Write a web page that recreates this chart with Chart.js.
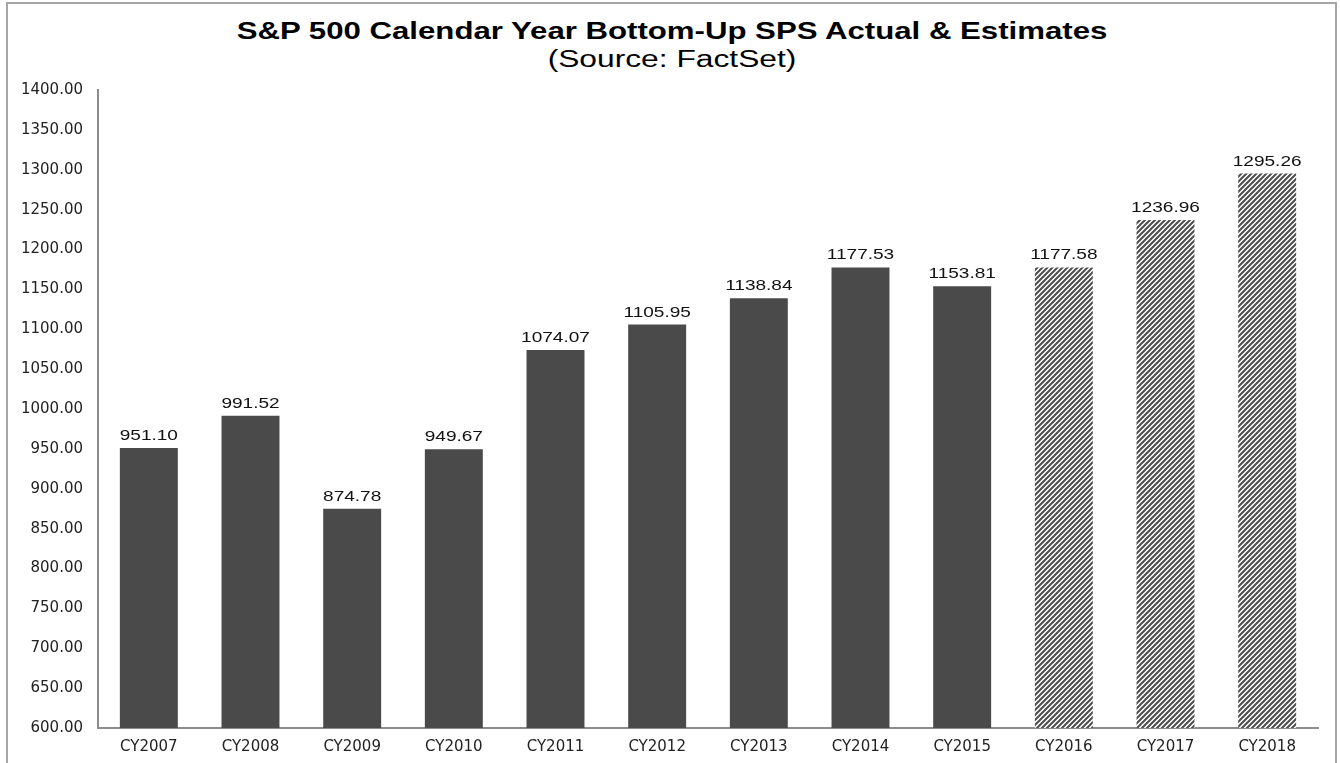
<!DOCTYPE html>
<html><head><meta charset="utf-8">
<script src="https://cdn.jsdelivr.net/npm/chart.js@4"></script>
<style>
html,body{margin:0;padding:0;background:#fff;}
#wrap{position:relative;width:1340px;height:763px;overflow:hidden;font-family:"Liberation Sans",Arial,sans-serif;}
#frame{position:absolute;left:6px;top:2px;width:1331px;height:780px;border:2px solid #a6a6a6;border-bottom:none;box-sizing:border-box;}
.t{position:absolute;left:2px;width:1340px;text-align:center;font-size:23px;line-height:23px;color:#000;white-space:nowrap;transform-origin:50% 50%;}
#t1{top:20px;font-weight:bold;transform:scaleX(1.355);}
#t2{top:48px;transform:scaleX(1.38);}
canvas{position:absolute;left:0;top:0;}
</style></head>
<body><div id="wrap"><div id="frame"></div>
<div class="t" id="t1">S&amp;P 500 Calendar Year Bottom-Up SPS Actual &amp; Estimates</div>
<div class="t" id="t2">(Source: FactSet)</div>
<canvas id="c" width="1340" height="763"></canvas></div>
<script>
const categories = ["CY2007","CY2008","CY2009","CY2010","CY2011","CY2012","CY2013","CY2014","CY2015","CY2016","CY2017","CY2018"];
const spsValues = [951.10, 991.52, 874.78, 949.67, 1074.07, 1105.95, 1138.84, 1177.53, 1153.81, 1177.58, 1236.96, 1295.26];
const isEstimate = [false,false,false,false,false,false,false,false,false,true,true,true];
const yMin = 600, yMax = 1400, yStep = 50;

function makeHatch(){
  const s = 5;
  const p = document.createElement('canvas'); p.width = s; p.height = s;
  const g = p.getContext('2d');
  g.fillStyle = '#ffffff'; g.fillRect(0,0,s,s);
  g.strokeStyle = '#4d4d4d'; g.lineWidth = 2;
  g.beginPath();
  g.moveTo(-1, s+1); g.lineTo(s+1, -1);
  g.moveTo(-1, 1); g.lineTo(1, -1);
  g.moveTo(s-1, s+1); g.lineTo(s+1, s-1);
  g.stroke();
  return g.createPattern(p, 'repeat');
}
const ctx = document.getElementById('c').getContext('2d');
const hatch = makeHatch();
const tickFont = {size:15,family:'"DejaVu Sans", Verdana, sans-serif'};

const labelPlugin = {
  id:'vals',
  afterDatasetsDraw(chart){
    const c = chart.ctx;
    const meta = chart.getDatasetMeta(0);
    meta.data.forEach((bar,i)=>{
      c.save();
      c.font = '14px "Liberation Sans", Arial, sans-serif';
      c.fillStyle = '#111';
      c.textAlign = 'center'; c.textBaseline = 'alphabetic';
      c.translate(bar.x, bar.y - 8);
      c.scale(1.36, 1);
      c.fillText(spsValues[i].toFixed(2), 0, 0);
      c.restore();
    });
  }
};

new Chart(ctx, {
  type:'bar',
  data:{ labels:categories, datasets:[{
    data:spsValues,
    backgroundColor: isEstimate.map(e => e ? hatch : '#4a4a4a'),
    borderWidth:0,
    barPercentage:0.57, categoryPercentage:1.0
  }]},
  options:{
    responsive:false, animation:false,
    layout:{padding:{left:0,right:22,top:90,bottom:0}},
    plugins:{legend:{display:false},tooltip:{enabled:false},title:{display:false}},
    scales:{
      x:{
        grid:{display:false, drawTicks:false},
        border:{display:true,color:'#8c8c8c',width:2},
        ticks:{color:'#222',font:tickFont,padding:10,maxRotation:0},
        afterFit(s){ s.height = 763 - 728; }
      },
      y:{
        min:yMin,max:yMax,
        grid:{display:false, drawTicks:false},
        border:{display:true,color:'#8c8c8c',width:2},
        ticks:{stepSize:yStep,color:'#222',font:tickFont,padding:15,
          callback:v=>v.toFixed(2)},
        afterFit(s){ s.width = 98; }
      }
    }
  },
  plugins:[labelPlugin]
});
</script></body></html>
